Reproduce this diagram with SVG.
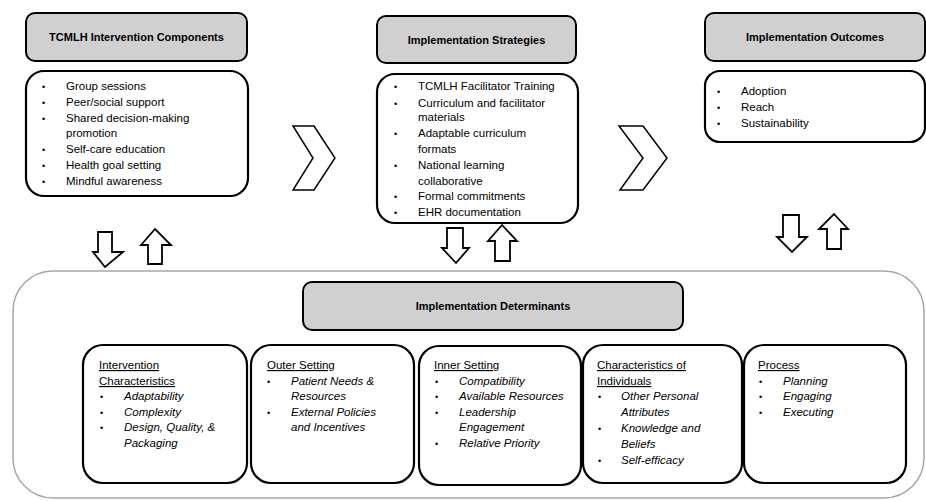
<svg xmlns="http://www.w3.org/2000/svg" width="926" height="501" viewBox="0 0 926 501">
<style>
text{font-family:"Liberation Sans",Arial,sans-serif;font-size:11.5px;fill:#000}
.h{font-weight:bold;font-size:11px;text-anchor:middle}
.b{font-size:9px}
.i{font-style:italic}
.u{text-decoration:underline}
.hdr{fill:#d0d0d0;stroke:#000;stroke-width:2}
.box{fill:#fff;stroke:#000;stroke-width:2.2}
.arr{fill:#fff;stroke:#000;stroke-width:1.8;stroke-linejoin:miter}
.chev{fill:#fff;stroke:#000;stroke-width:1.5}
</style>
<rect x="13" y="271" width="911" height="227" rx="40" fill="#fff" stroke="#a6a6a6" stroke-width="1.5"/>

<g id="n-components">
<rect class="hdr" x="26" y="13" width="221" height="48" rx="9"/>
<text class="h" x="136.5" y="41">TCMLH Intervention Components</text>
<rect class="box" x="26" y="71" width="222" height="125" rx="18"/>
<g><text class="b" x="42" y="90">•</text><text x="66" y="90">Group sessions</text>
<text class="b" x="42" y="106">•</text><text x="66" y="106">Peer/social support</text>
<text class="b" x="42" y="122">•</text><text x="66" y="122">Shared decision-making</text>
<text x="66" y="137">promotion</text>
<text class="b" x="42" y="153">•</text><text x="66" y="153">Self-care education</text>
<text class="b" x="42" y="169">•</text><text x="66" y="169">Health goal setting</text>
<text class="b" x="42" y="185">•</text><text x="66" y="185">Mindful awareness</text></g>
</g>

<g id="n-strategies">
<rect class="hdr" x="377" y="16" width="199" height="47" rx="9"/>
<text class="h" x="476.5" y="44">Implementation Strategies</text>
<rect class="box" x="377" y="74" width="201" height="149" rx="18"/>
<g><text class="b" x="394" y="90">•</text><text x="418" y="90">TCMLH Facilitator Training</text>
<text class="b" x="394" y="107">•</text><text x="418" y="107">Curriculum and facilitator</text>
<text x="418" y="121">materials</text>
<text class="b" x="394" y="137">•</text><text x="418" y="137">Adaptable curriculum</text>
<text x="418" y="153">formats</text>
<text class="b" x="394" y="169">•</text><text x="418" y="169">National learning</text>
<text x="418" y="185">collaborative</text>
<text class="b" x="394" y="200">•</text><text x="418" y="200">Formal commitments</text>
<text class="b" x="394" y="216">•</text><text x="418" y="216">EHR documentation</text></g>
</g>

<g id="n-outcomes">
<rect class="hdr" x="705" y="13" width="220" height="48" rx="9"/>
<text class="h" x="815" y="41">Implementation Outcomes</text>
<rect class="box" x="705" y="71" width="220" height="71" rx="15"/>
<g><text class="b" x="717" y="95">•</text><text x="741" y="95">Adoption</text>
<text class="b" x="717" y="111">•</text><text x="741" y="111">Reach</text>
<text class="b" x="717" y="127">•</text><text x="741" y="127">Sustainability</text></g>
</g>

<g id="n-determinants">
<rect class="hdr" x="303" y="282" width="380" height="48" rx="9"/>
<text class="h" x="493" y="310">Implementation Determinants</text>
</g>

<g id="n-intervention">
<rect class="box" x="83" y="345" width="164" height="138" rx="20"/>
<text class="u" x="99" y="369">Intervention</text>
<text class="u" x="99" y="385">Characteristics</text>
<text class="b" x="100" y="400">•</text><text class="i" x="124" y="400">Adaptability</text>
<text class="b" x="100" y="416">•</text><text class="i" x="124" y="416">Complexity</text>
<text class="b" x="100" y="431">•</text><text class="i" x="124" y="431">Design, Quality, &amp;</text>
<text class="i" x="124" y="447">Packaging</text>
</g>

<g id="n-outer">
<rect class="box" x="251" y="345" width="163" height="138" rx="20"/>
<text class="u" x="267" y="369">Outer Setting</text>
<text class="b" x="267" y="385">•</text><text class="i" x="291" y="385">Patient Needs &amp;</text>
<text class="i" x="291" y="400">Resources</text>
<text class="b" x="267" y="416">•</text><text class="i" x="291" y="416">External Policies</text>
<text class="i" x="291" y="431">and Incentives</text>
</g>

<g id="n-inner">
<rect class="box" x="419" y="346" width="162" height="139" rx="20"/>
<text class="u" x="434" y="369">Inner Setting</text>
<text class="b" x="435" y="385">•</text><text class="i" x="459" y="385">Compatibility</text>
<text class="b" x="435" y="400">•</text><text class="i" x="459" y="400">Available Resources</text>
<text class="b" x="435" y="416">•</text><text class="i" x="459" y="416">Leadership</text>
<text class="i" x="459" y="431">Engagement</text>
<text class="b" x="435" y="447">•</text><text class="i" x="459" y="447">Relative Priority</text>
</g>

<g id="n-individuals">
<rect class="box" x="583" y="345" width="159" height="138" rx="20"/>
<text class="u" x="597" y="369">Characteristics of</text>
<text class="u" x="597" y="385">Individuals</text>
<text class="b" x="598" y="400">•</text><text class="i" x="621" y="400">Other Personal</text>
<text class="i" x="621" y="416">Attributes</text>
<text class="b" x="598" y="432">•</text><text class="i" x="621" y="432">Knowledge and</text>
<text class="i" x="621" y="448">Beliefs</text>
<text class="b" x="598" y="464">•</text><text class="i" x="621" y="464">Self-efficacy</text>
</g>

<g id="n-process">
<rect class="box" x="744" y="345" width="162" height="138" rx="20"/>
<text class="u" x="758" y="369">Process</text>
<text class="b" x="759" y="385">•</text><text class="i" x="783" y="385">Planning</text>
<text class="b" x="759" y="400">•</text><text class="i" x="783" y="400">Engaging</text>
<text class="b" x="759" y="416">•</text><text class="i" x="783" y="416">Executing</text>
</g>

<g id="connectors">
<polygon class="chev" points="293,126 314,126 335,158 314,190 293,190 313,158"/>
<polygon class="chev" points="619,126 643,126 667,158 643,190 620,190 643,158"/>
<polygon class="arr" points="98,232 112,232 112,252 123,252 105,267 93,252 98,252"/>
<polygon class="arr" points="155,229 171,245 162,245 162,264 148,264 148,245 141,245"/>
<polygon class="arr" points="447,228 463,228 463,248 469,248 456,263 442,248 447,248"/>
<polygon class="arr" points="502,225 517,241 510,241 510,261 495,261 495,241 488,241"/>
<polygon class="arr" points="783,215 799,215 799,237 807,237 792,252 777,237 783,237"/>
<polygon class="arr" points="834,214 848,229 841,229 841,249 827,249 827,229 819,229"/>
</g>
</svg>
